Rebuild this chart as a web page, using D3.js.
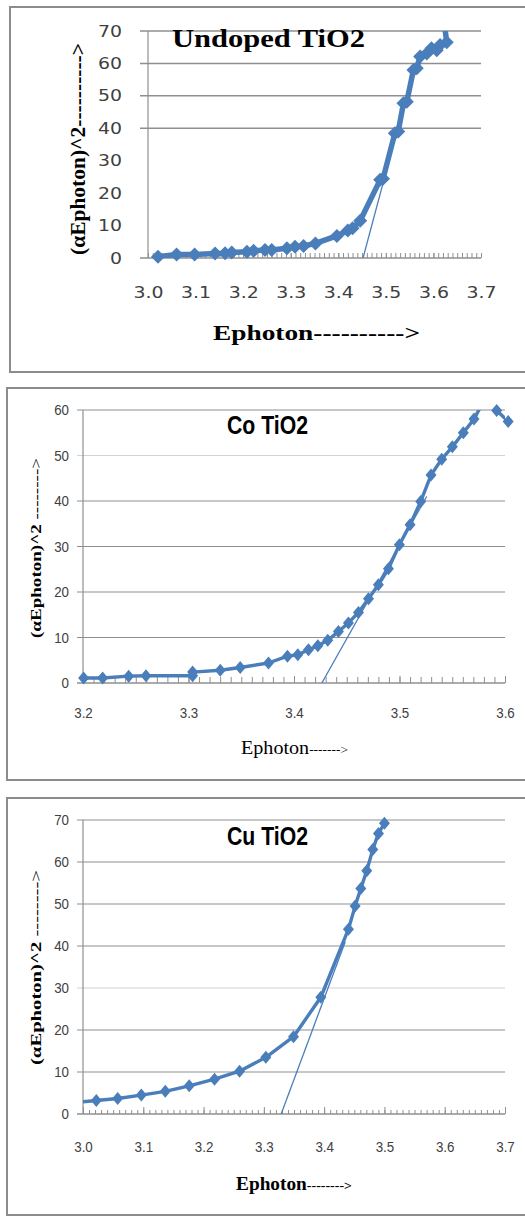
<!DOCTYPE html>
<html>
<head>
<meta charset="utf-8">
<script src="https://cdn.jsdelivr.net/npm/d3@7"></script>
<style>
  body { margin: 0; background: #fff; }
  svg { display: block; }
</style>
</head>
<body>
<div id="vis-container"></div>
<script>
// ---- data ----
var undopedX = [3.021, 3.060, 3.098, 3.141, 3.162, 3.176, 3.208, 3.222, 3.246, 3.260, 3.292, 3.309, 3.327, 3.352,
                3.397, 3.420, 3.430, 3.446, 3.488, 3.494, 3.519, 3.526, 3.537, 3.544, 3.558, 3.565, 3.572, 3.586,
                3.596, 3.607, 3.614, 3.628, 3.624];
var undopedY = [0.4, 1.1, 1.1, 1.4, 1.5, 1.7, 1.9, 2.2, 2.5, 2.5, 3.0, 3.5, 3.7, 4.5,
                6.8, 8.5, 9.2, 11.5, 24.1, 24.4, 38.5, 39.0, 47.7, 48.2, 58.0, 58.5, 62.1, 63.1,
                64.7, 64.1, 65.7, 66.5, 71];
var undopedFitX = [3.452, 3.556];
var undopedFitY = [0, 57];

var coX = [3.2006, 3.2186, 3.2433, 3.2597, 3.3039, 3.3039, 3.3301, 3.3490, 3.3758, 3.3938, 3.4036, 3.4137, 3.4226,
           3.4320, 3.4421, 3.4516, 3.4611, 3.4706, 3.4800, 3.4895, 3.4999, 3.5100, 3.5201, 3.5299, 3.5400,
           3.5501, 3.5605, 3.5706, 3.581, 3.5921, 3.603];
var coY = [1.1, 1.1, 1.5, 1.6, 1.6, 2.4, 2.8, 3.4, 4.4, 5.9, 6.2, 7.3, 8.2,
           9.4, 11.3, 13.2, 15.5, 18.5, 21.6, 25.1, 30.4, 34.8, 39.9, 45.7, 49.2,
           51.9, 55.0, 58.0, 62.5, 59.9, 57.5];
var coFitX = [3.4264, 3.5258];
var coFitY = [0, 41];

var cuX = [2.975, 3.0221, 3.0575, 3.0967, 3.1365, 3.1762, 3.2182, 3.2597, 3.3033, 3.3492, 3.3945,
           3.4403, 3.4514, 3.4608, 3.4707, 3.4807, 3.4901, 3.5000];
var cuY = [2.6, 3.2, 3.7, 4.5, 5.4, 6.7, 8.3, 10.2, 13.5, 18.4, 27.8,
           44.0, 49.5, 53.7, 57.9, 63.0, 66.8, 69.2];
var cuFitX = [3.3287, 3.435];
var cuFitY = [0, 41];

var ticks70 = [0, 10, 20, 30, 40, 50, 60, 70];
var ticks60 = [0, 10, 20, 30, 40, 50, 60];
var xTicksWide = [3.0, 3.1, 3.2, 3.3, 3.4, 3.5, 3.6, 3.7];
var xTicksNarrow = [3.2, 3.3, 3.4, 3.5, 3.6];

var titles = ["Undoped TiO2", "Co TiO2", "Cu TiO2"];
var yTitle = "(\u03b1Ephoton)^2";
var xTitle = "Ephoton";

var blue = "#4a7ebb";
var serif = "'Liberation Serif', 'Times New Roman', serif";
var sans = "'Liberation Sans', Arial, sans-serif";

var svg = d3.select("#vis-container").append("svg")
      .attr("width", 525)
      .attr("height", 1216);

function zip(xs, ys) {
      return xs.map(function(v, i) { return {x: v, y: ys[i]}; });
}

function diamond(hw, hh) {
      return "M0," + (-hh) + "L" + hw + ",0L0," + hh + "L" + (-hw) + ",0Z";
}

function minorTicks(dom) {
      return d3.range(Math.round(dom[0] * 100), Math.round(dom[1] * 100) + 1).map(v => v / 100);
}

function drawPanel(p, idx) {
      // outer frame
      svg.append("rect")
            .attr("x", p.frame[0]).attr("y", p.frame[1])
            .attr("width", p.frame[2] - p.frame[0]).attr("height", p.frame[3] - p.frame[1])
            .attr("fill", "none").attr("stroke", "#8c8c8c").attr("stroke-width", 2);

      var w = p.right - p.left, h = p.bottom - p.top;
      var g = svg.append("g").attr("transform", "translate(" + p.left + "," + p.top + ")");

      var x = d3.scaleLinear().domain(p.xDomain).range([0, w]);
      var y = d3.scaleLinear().domain(p.yDomain).range([h, 0]);

      // gridlines
      g.append("g").selectAll("line")
            .data(p.grid)
            .enter().append("line")
            .attr("x1", -p.tickLen).attr("x2", w)
            .attr("y1", d => y(d)).attr("y2", d => y(d))
            .attr("stroke", d => p.lightGrid.indexOf(d) >= 0 ? "#d2d2d2" : "#8f8f8f")
            .attr("stroke-width", p.gridWidth);

      // axis lines
      g.append("line").attr("x1", 0).attr("x2", 0).attr("y1", 0).attr("y2", h)
            .attr("stroke", "#8f8f8f").attr("stroke-width", 1.2);
      g.append("line").attr("x1", -p.tickLen).attr("x2", w).attr("y1", h).attr("y2", h)
            .attr("stroke", "#8f8f8f").attr("stroke-width", 1.5);

      // small ticks standing on the x axis
      var minor = g.append("g").attr("transform", "translate(0," + h + ")")
            .call(d3.axisTop(x).tickValues(minorTicks(p.xDomain)).tickSize(p.minorLen).tickSizeOuter(0).tickFormat(""));
      minor.select(".domain").remove();
      minor.selectAll("line").attr("stroke", "#8f8f8f");
      var major = g.append("g").attr("transform", "translate(0," + h + ")")
            .call(d3.axisTop(x).tickValues(p.xTicks).tickSize(p.majorLen).tickSizeOuter(0).tickFormat(""));
      major.select(".domain").remove();
      major.selectAll("line").attr("stroke", "#8f8f8f");

      // tick labels
      var yAx = g.append("g")
            .call(d3.axisLeft(y).tickValues(p.yTicks).tickSize(0).tickPadding(p.yPad).tickFormat(d3.format("d")));
      yAx.select(".domain").remove();
      var xAx = g.append("g").attr("transform", "translate(0," + h + ")")
            .call(d3.axisBottom(x).tickValues(p.xTicks).tickSize(0).tickPadding(p.xPad).tickFormat(d3.format(".1f")));
      xAx.select(".domain").remove();
      [yAx, xAx].forEach(function(ax) {
            ax.selectAll("text")
                  .attr("font-family", p.tickFont)
                  .attr("font-size", p.tickSize)
                  .attr("fill", "#404040")
                  .each(function() {
                        var tl = this.getComputedTextLength() * p.tickStretch;
                        d3.select(this).attr("textLength", tl).attr("lengthAdjust", "spacingAndGlyphs");
                  });
      });

      // clip for lines
      var clipId = "clip" + idx;
      g.append("clipPath").attr("id", clipId)
            .append("rect").attr("x", 0).attr("y", 0).attr("width", w).attr("height", h);

      var line = d3.line().x(d => x(d.x)).y(d => y(d.y));

      g.append("path")
            .datum(zip(p.fitX, p.fitY))
            .attr("clip-path", "url(#" + clipId + ")")
            .attr("d", line)
            .attr("fill", "none").attr("stroke", blue).attr("stroke-width", 1.3);

      var pts = zip(p.dataX, p.dataY);
      g.append("path")
            .datum(pts)
            .attr("clip-path", "url(#" + clipId + ")")
            .attr("d", line)
            .attr("fill", "none").attr("stroke", blue)
            .attr("stroke-width", p.lineWidth).attr("stroke-linejoin", "round");

      g.append("g").selectAll("path")
            .data(pts.filter(d => d.x >= p.xDomain[0] && d.y <= p.yDomain[1]))
            .enter().append("path")
            .attr("transform", d => "translate(" + x(d.x) + "," + y(d.y) + ")")
            .attr("d", diamond(p.marker[0], p.marker[1]))
            .attr("fill", blue);

      // chart title
      svg.append("text")
            .attr("x", p.title.x).attr("y", p.title.y)
            .attr("font-family", p.title.font).attr("font-weight", p.title.weight)
            .attr("font-size", p.title.size)
            .attr("textLength", p.title.len).attr("lengthAdjust", "spacingAndGlyphs")
            .text(p.title.text);

      // y axis title (rotated)
      var yt = svg.append("text")
            .attr("transform", "translate(" + p.yLab.x + "," + p.yLab.y + ") rotate(-90)")
            .attr("font-family", serif).attr("font-size", p.yLab.size)
            .attr("textLength", p.yLab.len).attr("lengthAdjust", "spacingAndGlyphs");
      yt.append("tspan").attr("font-weight", "bold").text(yTitle);
      yt.append("tspan").attr("font-weight", p.yLab.dashWeight).text(p.yLab.dashes);

      // x axis title
      var xt = svg.append("text")
            .attr("x", p.xLab.x).attr("y", p.xLab.y)
            .attr("font-family", serif)
            .attr("textLength", p.xLab.len).attr("lengthAdjust", "spacingAndGlyphs");
      xt.append("tspan").attr("font-size", p.xLab.size).attr("font-weight", p.xLab.weight).text(xTitle);
      xt.append("tspan").attr("font-size", p.xLab.dashSize).attr("font-weight", p.xLab.weight).text(p.xLab.dashes);
}

var panels = [
      {
            frame: [10, 7, 545, 372],
            left: 148, right: 481, top: 31, bottom: 258,
            xDomain: [3.0, 3.7], yDomain: [0, 70],
            xTicks: xTicksWide, yTicks: ticks70,
            grid: [40, 50, 60, 70], lightGrid: [], gridWidth: 1.5,
            tickLen: 8, minorLen: 5, majorLen: 5,
            tickFont: "'DejaVu Sans', Verdana, sans-serif", tickSize: 16, tickStretch: 1.18,
            yPad: 26, xPad: 29,
            dataX: undopedX, dataY: undopedY, fitX: undopedFitX, fitY: undopedFitY,
            lineWidth: 5.5, marker: [7, 7],
            title: {text: titles[0], x: 172, y: 47, size: 26, weight: "bold", font: serif, len: 193},
            yLab: {x: 85, y: 255, size: 21, len: 212, dashes: "---------->", dashWeight: "bold"},
            xLab: {x: 213, y: 340, size: 20, dashSize: 20, weight: "bold", len: 207, dashes: "---------->"}
      },
      {
            frame: [7, 388, 545, 780],
            left: 83, right: 505, top: 410, bottom: 683,
            xDomain: [3.2, 3.6], yDomain: [0, 60],
            xTicks: xTicksNarrow, yTicks: ticks60,
            grid: [10, 20, 30, 40, 50, 60], lightGrid: [50], gridWidth: 1.2,
            tickLen: 6, minorLen: 6, majorLen: 7,
            tickFont: sans, tickSize: 15.5, tickStretch: 0.86,
            yPad: 14, xPad: 24,
            dataX: coX, dataY: coY, fitX: coFitX, fitY: coFitY,
            lineWidth: 3.4, marker: [5.5, 6.5],
            title: {text: titles[1], x: 227, y: 434, size: 26, weight: "bold", font: sans, len: 81},
            yLab: {x: 41, y: 638, size: 15, len: 180, dashes: " -------->", dashWeight: "normal"},
            xLab: {x: 241, y: 754, size: 18, dashSize: 12, weight: "normal", len: 107, dashes: "------->"}
      },
      {
            frame: [7, 798, 545, 1215],
            left: 83, right: 505, top: 820, bottom: 1114,
            xDomain: [3.0, 3.7], yDomain: [0, 70],
            xTicks: xTicksWide, yTicks: ticks70,
            grid: [10, 20, 30, 40, 50, 60, 70], lightGrid: [30], gridWidth: 1.2,
            tickLen: 6, minorLen: 4, majorLen: 7,
            tickFont: sans, tickSize: 15.5, tickStretch: 0.86,
            yPad: 14, xPad: 27,
            dataX: cuX, dataY: cuY, fitX: cuFitX, fitY: cuFitY,
            lineWidth: 3.4, marker: [5.5, 6.5],
            title: {text: titles[2], x: 227, y: 845, size: 26, weight: "bold", font: sans, len: 81},
            yLab: {x: 41, y: 1065, size: 15, len: 195, dashes: " -------->", dashWeight: "normal"},
            xLab: {x: 236, y: 1190, size: 18, dashSize: 13, weight: "bold", len: 116, dashes: "-------->"}
      }
];

panels.forEach(drawPanel);
</script>
</body>
</html>
